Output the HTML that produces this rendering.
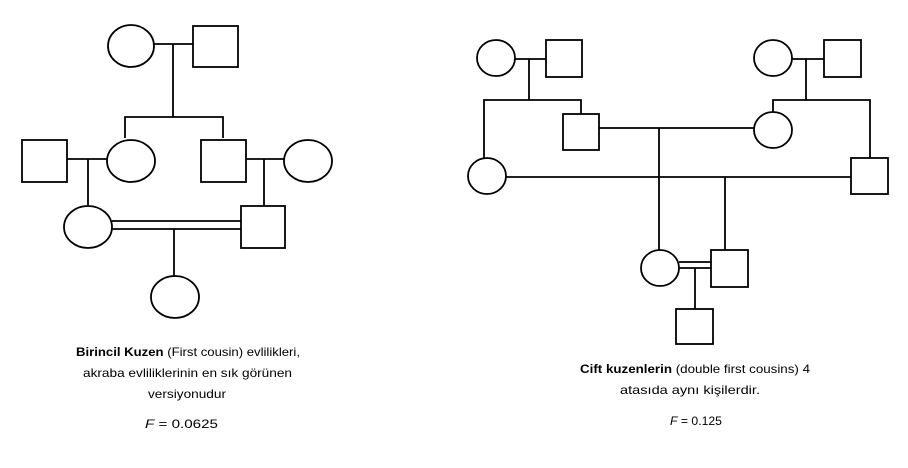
<!DOCTYPE html>
<html><head><meta charset="utf-8"><style>html,body{margin:0;padding:0;background:#fff}svg{display:block}</style></head>
<body>
<svg width="908" height="468" viewBox="0 0 908 468" xmlns="http://www.w3.org/2000/svg">
<g fill="none" stroke="#000" stroke-width="1.8">
<!-- LEFT -->
<ellipse cx="131" cy="46" rx="23" ry="21"/>
<rect x="193" y="26" width="45" height="41"/>
<line x1="154" y1="44" x2="193" y2="44"/>
<line x1="173" y1="44" x2="173" y2="117"/>
<polyline points="125,138 125,117 223,117 223,138"/>
<rect x="22" y="140" width="45" height="42"/>
<ellipse cx="131" cy="161" rx="24" ry="21"/>
<line x1="67" y1="159" x2="107" y2="159"/>
<line x1="88" y1="159" x2="88" y2="205"/>
<rect x="201" y="140" width="45" height="42"/>
<ellipse cx="308" cy="161" rx="24" ry="21"/>
<line x1="246" y1="159" x2="284" y2="159"/>
<line x1="264" y1="159" x2="264" y2="206"/>
<ellipse cx="88" cy="227" rx="24" ry="21"/>
<rect x="241" y="206" width="44" height="42"/>
<line x1="112" y1="221" x2="241" y2="221"/>
<line x1="112" y1="229" x2="241" y2="229"/>
<line x1="174" y1="229" x2="174" y2="277"/>
<ellipse cx="175" cy="297" rx="24" ry="21"/>
<!-- RIGHT -->
<ellipse cx="496" cy="58" rx="19" ry="18"/>
<rect x="546" y="40" width="36" height="37"/>
<line x1="515" y1="59" x2="546" y2="59"/>
<line x1="529" y1="59" x2="529" y2="100"/>
<polyline points="484,158 484,100 581,100 581,114"/>
<rect x="563" y="114" width="36" height="36"/>
<line x1="599" y1="128" x2="754" y2="128"/>
<ellipse cx="773" cy="130" rx="19" ry="18"/>
<ellipse cx="773" cy="58" rx="19" ry="18"/>
<rect x="824" y="40" width="37" height="37"/>
<line x1="792" y1="59" x2="824" y2="59"/>
<line x1="806" y1="59" x2="806" y2="100"/>
<polyline points="773,112 773,100 870,100 870,158"/>
<ellipse cx="487" cy="176" rx="19" ry="18"/>
<rect x="851" y="158" width="37" height="36"/>
<line x1="506" y1="177" x2="851" y2="177"/>
<line x1="659" y1="128" x2="659" y2="250"/>
<line x1="725" y1="177" x2="725" y2="250"/>
<ellipse cx="660" cy="268" rx="19" ry="18"/>
<rect x="711" y="250" width="37" height="37"/>
<line x1="679" y1="262" x2="711" y2="262"/>
<line x1="679" y1="268" x2="711" y2="268"/>
<line x1="695" y1="268" x2="695" y2="309"/>
<rect x="676" y="309" width="37" height="35"/>
</g>
<g font-family="Liberation Sans, sans-serif" font-size="12" fill="#000">
<text x="76" y="356" textLength="224" lengthAdjust="spacingAndGlyphs"><tspan font-weight="bold">Birincil Kuzen</tspan> (First cousin) evlilikleri,</text>
<text x="83" y="377" textLength="209" lengthAdjust="spacingAndGlyphs">akraba evliliklerinin en sık görünen</text>
<text x="148" y="398" textLength="78" lengthAdjust="spacingAndGlyphs">versiyonudur</text>
<text x="145" y="428" textLength="73" lengthAdjust="spacingAndGlyphs"><tspan font-style="italic">F</tspan> = 0.0625</text>
<text x="580" y="373" textLength="230" lengthAdjust="spacingAndGlyphs"><tspan font-weight="bold">Cift kuzenlerin</tspan> (double first cousins) 4</text>
<text x="620" y="394" textLength="140" lengthAdjust="spacingAndGlyphs">atasıda aynı kişilerdir.</text>
<text x="670" y="425" textLength="52" lengthAdjust="spacingAndGlyphs"><tspan font-style="italic">F</tspan> = 0.125</text>
</g>
</svg>
</body></html>
